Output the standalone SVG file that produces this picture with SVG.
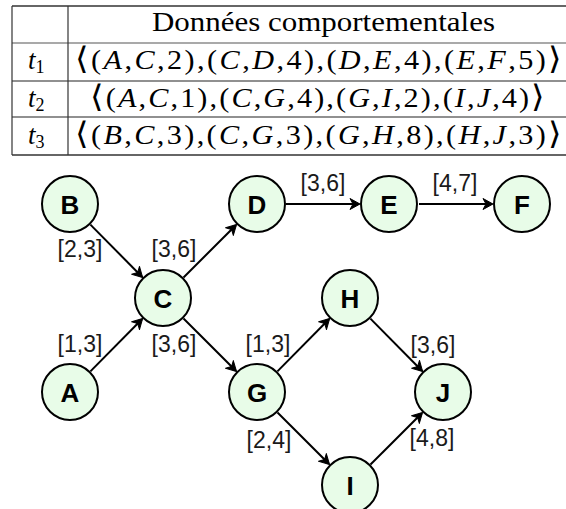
<svg xmlns="http://www.w3.org/2000/svg" width="566" height="509" viewBox="0 0 566 509">
<style>
.tb{font-family:"Liberation Serif","DejaVu Serif",serif;font-size:27px;fill:#000}
.hd{font-size:28px}
.i{font-style:italic}
.ab{font-family:"DejaVu Sans",sans-serif;font-weight:200;font-size:31px}
.sub{font-size:18px}
.node circle{fill:#e8fce8;stroke:#000;stroke-width:2}
.node text{font-family:"Liberation Sans","DejaVu Sans",sans-serif;font-weight:bold;font-size:26px;text-anchor:middle;fill:#000}
.edge{stroke:#000;stroke-width:2;fill:none;marker-end:url(#arr)}
.lbl{font-family:"Liberation Sans","DejaVu Sans",sans-serif;font-size:23px;text-anchor:middle;fill:#1a1a1a}
</style>
<defs>
<marker id="arr" markerUnits="userSpaceOnUse" orient="auto" viewBox="-11 -7 13 14" refX="0" refY="0" markerWidth="13" markerHeight="14" overflow="visible">
<path d="M1,0 L-9,-5.5 L-6,0 L-9,5.5 Z" fill="#000" stroke="#000" stroke-width="1" stroke-linejoin="round"/>
</marker>
</defs>
<rect width="566" height="509" fill="#fff"/>
<g id="table">
<line x1="12" y1="6" x2="566" y2="6" stroke="#666" stroke-width="2"/>
<line x1="12" y1="155" x2="566" y2="155" stroke="#666" stroke-width="2"/>
<line x1="12" y1="43" x2="566" y2="43" stroke="#555" stroke-width="1.2"/>
<line x1="12" y1="81" x2="566" y2="81" stroke="#222" stroke-width="1.2"/>
<line x1="12" y1="117" x2="566" y2="117" stroke="#222" stroke-width="1.2"/>
<line x1="12" y1="6" x2="12" y2="155" stroke="#333" stroke-width="1.2"/>
<line x1="68" y1="6" x2="68" y2="155" stroke="#333" stroke-width="1.2"/>
<text class="tb hd" x="152" y="31" textLength="343" lengthAdjust="spacingAndGlyphs">Données comportementales</text>
<text class="tb" x="28" y="68.5"><tspan class="i">t</tspan><tspan class="sub" dy="4">1</tspan></text>
<text class="tb" x="28" y="106.5"><tspan class="i">t</tspan><tspan class="sub" dy="4">2</tspan></text>
<text class="tb" x="28" y="143.5"><tspan class="i">t</tspan><tspan class="sub" dy="4">3</tspan></text>
<text class="tb" transform="translate(75,68.5) scale(1.12,1)" x="0" y="0" textLength="434.8" lengthAdjust="spacing"><tspan class="ab">⟨</tspan>(<tspan class="i">A</tspan>,<tspan class="i">C</tspan>,2),(<tspan class="i">C</tspan>,<tspan class="i">D</tspan>,4),(<tspan class="i">D</tspan>,<tspan class="i">E</tspan>,4),(<tspan class="i">E</tspan>,<tspan class="i">F</tspan>,5)<tspan class="ab">⟩</tspan></text>
<text class="tb" transform="translate(90,106.5) scale(1.12,1)" x="0" y="0" textLength="406.2" lengthAdjust="spacing"><tspan class="ab">⟨</tspan>(<tspan class="i">A</tspan>,<tspan class="i">C</tspan>,1),(<tspan class="i">C</tspan>,<tspan class="i">G</tspan>,4),(<tspan class="i">G</tspan>,<tspan class="i">I</tspan>,2),(<tspan class="i">I</tspan>,<tspan class="i">J</tspan>,4)<tspan class="ab">⟩</tspan></text>
<text class="tb" transform="translate(75,143.5) scale(1.12,1)" x="0" y="0" textLength="434.8" lengthAdjust="spacing"><tspan class="ab">⟨</tspan>(<tspan class="i">B</tspan>,<tspan class="i">C</tspan>,3),(<tspan class="i">C</tspan>,<tspan class="i">G</tspan>,3),(<tspan class="i">G</tspan>,<tspan class="i">H</tspan>,8),(<tspan class="i">H</tspan>,<tspan class="i">J</tspan>,3)<tspan class="ab">⟩</tspan></text>
</g>
<g id="connectors">
<line class="edge" x1="90.4" y1="224.6" x2="141.9" y2="276.7"/>
<line class="edge" x1="90.4" y1="371.4" x2="141.9" y2="319.3"/>
<line class="edge" x1="183.5" y1="277.5" x2="235.8" y2="225.2"/>
<line class="edge" x1="183.5" y1="318.5" x2="235.8" y2="370.8"/>
<line class="edge" x1="286" y1="204" x2="359" y2="204"/>
<line class="edge" x1="419" y1="204" x2="492" y2="204"/>
<line class="edge" x1="277.4" y1="371.4" x2="328.9" y2="319.3"/>
<line class="edge" x1="277.5" y1="412.5" x2="328.8" y2="463.8"/>
<line class="edge" x1="370.4" y1="318.6" x2="421.9" y2="370.7"/>
<line class="edge" x1="370.5" y1="464.5" x2="421.8" y2="413.2"/>
<text class="lbl" x="80" y="257">[2,3]</text>
<text class="lbl" x="174" y="257">[3,6]</text>
<text class="lbl" x="323" y="191">[3,6]</text>
<text class="lbl" x="455" y="191">[4,7]</text>
<text class="lbl" x="80" y="352">[1,3]</text>
<text class="lbl" x="174" y="352">[3,6]</text>
<text class="lbl" x="268" y="352">[1,3]</text>
<text class="lbl" x="269" y="448">[2,4]</text>
<text class="lbl" x="433" y="353">[3,6]</text>
<text class="lbl" x="432" y="446">[4,8]</text>
</g>
<g id="node-A" class="node"><circle cx="70" cy="392" r="28"/><text x="70" y="401.5">A</text></g>
<g id="node-B" class="node"><circle cx="70" cy="204" r="28"/><text x="70" y="213.5">B</text></g>
<g id="node-C" class="node"><circle cx="163" cy="298" r="28"/><text x="163" y="307.5">C</text></g>
<g id="node-D" class="node"><circle cx="257" cy="204" r="28"/><text x="257" y="213.5">D</text></g>
<g id="node-E" class="node"><circle cx="389" cy="204" r="28"/><text x="389" y="213.5">E</text></g>
<g id="node-F" class="node"><circle cx="522" cy="204" r="28"/><text x="522" y="213.5">F</text></g>
<g id="node-G" class="node"><circle cx="257" cy="392" r="28"/><text x="257" y="401.5">G</text></g>
<g id="node-H" class="node"><circle cx="350" cy="298" r="28"/><text x="350" y="307.5">H</text></g>
<g id="node-I" class="node"><circle cx="350" cy="485" r="28"/><text x="350" y="494.5">I</text></g>
<g id="node-J" class="node"><circle cx="443" cy="392" r="28"/><text x="443" y="401.5">J</text></g>
</svg>
